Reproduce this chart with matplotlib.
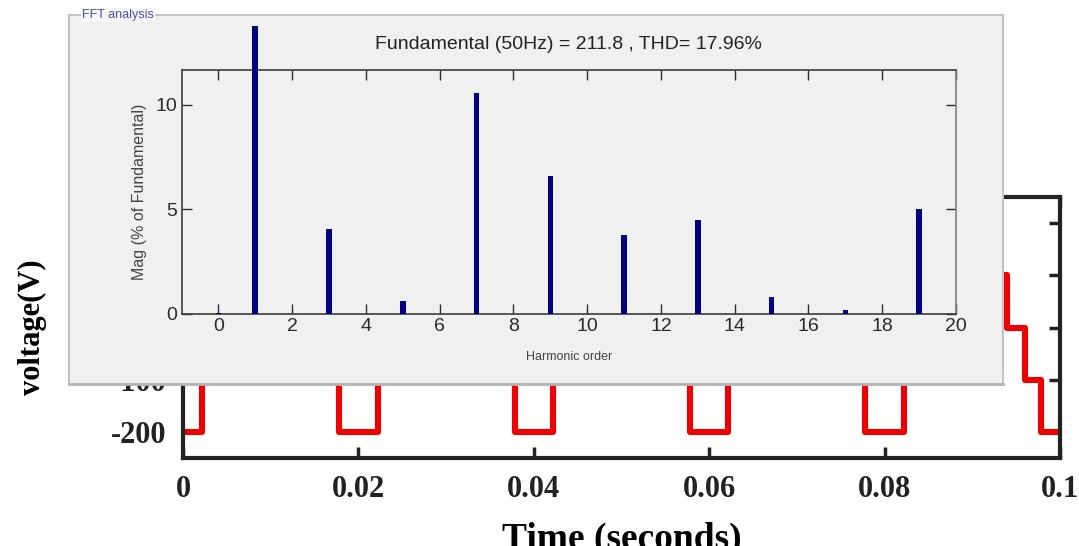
import matplotlib.pyplot as plt
from matplotlib.transforms import Bbox, TransformedBbox

plt.rcParams['axes.unicode_minus'] = False

# staircase inverter output voltage, step start times (s) and levels (V)
step_t = [0.0, 0.0022, 0.0040, 0.0057, 0.0075, 0.0125, 0.0143, 0.0160, 0.0178,
          0.0222, 0.0240, 0.0257, 0.0275, 0.0325, 0.0343, 0.0360, 0.0378,
          0.0422, 0.0440, 0.0457, 0.0475, 0.0525, 0.0543, 0.0560, 0.0578,
          0.0622, 0.0640, 0.0657, 0.0675, 0.0725, 0.0743, 0.0760, 0.0778,
          0.0822, 0.0840, 0.0857, 0.0875, 0.0925, 0.0940, 0.0960, 0.0978, 0.1]
step_v = [-200, -100, 0, 100, 200, 100, 0, -100, -200,
          -100, 0, 100, 200, 100, 0, -100, -200,
          -100, 0, 100, 200, 100, 0, -100, -200,
          -100, 0, 100, 200, 100, 0, -100, -200,
          -100, 0, 100, 200, 100, 0, -100, -200, -200]

time_ticks = [0, 0.02, 0.04, 0.06, 0.08, 0.1]
time_labels = ['0', '0.02', '0.04', '0.06', '0.08', '0.1']
volt_ticks = [-200, -100, 0, 100, 200]

# FFT of the output (% of fundamental)
harm_order = [0, 1, 3, 5, 7, 9, 11, 13, 15, 17, 19]
harm_mag = [0.05, 100, 4.06, 0.64, 10.55, 6.58, 3.78, 4.48, 0.82, 0.18, 5.04]
fft_title = 'Fundamental (50Hz) = 211.8 , THD= 17.96%'

W, H = 1079, 546
serif = ['Liberation Serif', 'DejaVu Serif']
narrow = ['Liberation Sans Narrow', 'Liberation Sans', 'DejaVu Sans']


def px_rect(x0, y0, x1, y1):
    # pixel box (from top-left) -> figure fraction rect
    return [x0 / W, 1 - y1 / H, (x1 - x0) / W, (y1 - y0) / H]


fig = plt.figure(figsize=(W / 100, H / 100), dpi=100)

# background time-domain plot
ax = fig.add_axes(px_rect(183, 197, 1060, 458))
ax.step(step_t, step_v, where='post', color='#ee0000', lw=4.4)
ax.set_xlim(0, 0.1)
ax.set_ylim(-250, 250)
ax.set_xticks(time_ticks)
ax.set_xticklabels(time_labels)
ax.set_yticks(volt_ticks)
ax.tick_params(direction='in', length=8, width=2.5, top=True, right=True,
               pad=12, labelsize=22, colors='#222222')
for lab in ax.get_xticklabels() + ax.get_yticklabels():
    lab.set_fontfamily(serif)
    lab.set_fontweight('bold')
for s in ax.spines.values():
    s.set_linewidth(3)
    s.set_color('#222222')
ax.set_xlabel('Time (seconds)', fontsize=27, fontweight='bold', family=serif)
ax.xaxis.set_label_coords(0.5, -0.245)
ax.set_ylabel('voltage(V)', fontsize=22, fontweight='bold', family=serif)
ax.yaxis.set_label_coords(-0.155, 0.5)

# FFT analysis panel pasted on top
panel = fig.add_axes(px_rect(69, 15, 1003, 384))
panel.set_facecolor('#f0f0f0')
panel.set_xticks([])
panel.set_yticks([])
for s in panel.spines.values():
    s.set_color('#c4c4c4')
    s.set_linewidth(1.5)
panel.spines['bottom'].set_color('#b4b4b4')
panel.spines['bottom'].set_linewidth(2)
panel.set_zorder(2)
panel.text(13 / 934, 1.0, 'FFT analysis', transform=panel.transAxes,
           fontsize=9, family=narrow, color='#5050a0', va='center', ha='left',
           bbox=dict(facecolor='#f6f6f6', edgecolor='none', pad=1))

fax = fig.add_axes(px_rect(181.5, 70, 956, 314))
fax.set_zorder(3)
fax.set_facecolor('#f0f0f0')
bars = fax.bar(harm_order, harm_mag, width=0.15, color='#000080', zorder=3)
clip = TransformedBbox(Bbox([[0, 0], [1, 1.18]]), fax.transAxes)
for b in bars:
    b.set_clip_box(clip)
fax.set_xlim(-1, 20)
fax.set_ylim(0, 11.67)
fax.set_xticks(range(0, 21, 2))
fax.set_yticks([0, 5, 10])
fax.tick_params(direction='in', length=7, width=1, top=True, right=True,
                pad=3, labelsize=14, colors='#2a2a2a')
for lab in fax.get_xticklabels() + fax.get_yticklabels():
    lab.set_fontfamily(narrow)
for side in ['top', 'left', 'bottom']:
    fax.spines[side].set_color('#3c3c3c')
fax.spines['right'].set_color('#808080')
for s in fax.spines.values():
    s.set_linewidth(1.2)
fax.set_title(fft_title, fontsize=14, family=narrow, color='#222222', pad=15)
fax.set_xlabel('Harmonic order', fontsize=9, family=narrow, color='#444444')
fax.xaxis.set_label_coords(0.5, -0.15)
fax.set_ylabel('Mag (% of Fundamental)', fontsize=11.5, family=narrow,
               color='#444444')
fax.yaxis.set_label_coords(-0.045, 0.5)

fig.savefig('out.png', dpi=100)
